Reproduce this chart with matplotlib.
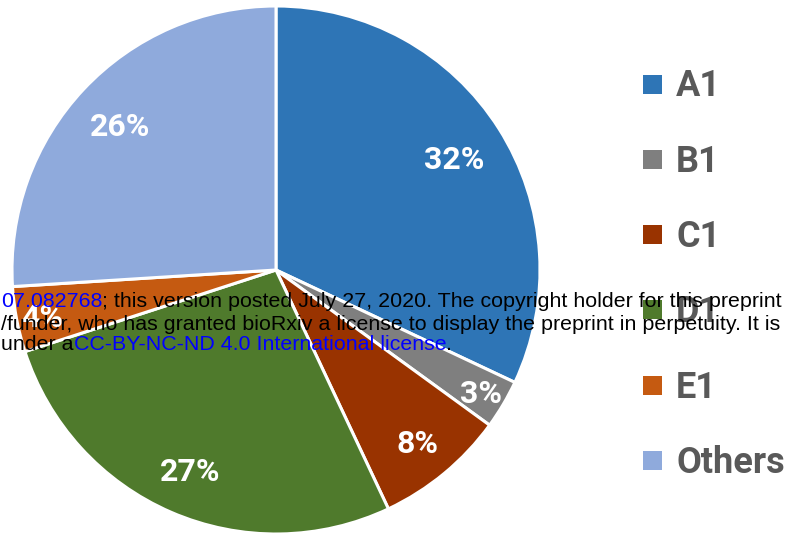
import matplotlib
matplotlib.use("Agg")
import matplotlib.pyplot as plt
from matplotlib.patches import Rectangle
import numpy as np

labels = ["A1", "B1", "C1", "D1", "E1", "Others"]
shares = [32, 3, 8, 27, 4, 26]
colors = ["#2E75B6", "#7F7F7F", "#993300", "#4F7A2C", "#C55A11", "#8FAADC"]
# small slices get their labels pushed further out
label_dist = [0.80, 0.90, 0.84, 0.82, 0.90, 0.81]

W, H = 800, 536
fig = plt.figure(figsize=(W / 100, H / 100), dpi=100)

cx, cy, r = 276, 270, 264
ax = fig.add_axes([(cx - r) / W, (H - cy - r) / H, 2 * r / W, 2 * r / H])

wedges, texts, autotexts = ax.pie(
    shares, colors=colors, startangle=90, counterclock=False,
    autopct="%d%%", pctdistance=0.81,
    wedgeprops=dict(edgecolor="white", linewidth=2.2),
    textprops=dict(color="white", fontsize=23, fontweight="bold", family="Roboto"),
)
ax.set_xlim(-1, 1)
ax.set_ylim(-1, 1)

# reposition the percentage labels along each slice's mid angle
for w, t, d in zip(wedges, autotexts, label_dist):
    mid = np.deg2rad((w.theta1 + w.theta2) / 2)
    t.set_position((d * np.cos(mid), d * np.sin(mid)))
    t.set_va("center_baseline")

# legend on the right: square swatch + grey bold label per row
sq = 19
for i, (lab, c) in enumerate(zip(labels, colors)):
    yc = 84 + i * 75.3
    fig.add_artist(Rectangle((643 / W, 1 - (yc + sq / 2) / H), sq / W, sq / H,
                             transform=fig.transFigure, facecolor=c, edgecolor="none"))
    fig.text(676 / W, 1 - (yc + 12.5) / H, lab, color="#595959", family="Roboto",
             fontweight="bold", fontsize=26, va="baseline", ha="left")

# preprint notice overlaid on top
lines = [
    [("07.082768", "blue"), ("; this version posted July 27, 2020. The copyright holder for this preprint", "black")],
    [("/funder, who has granted bioRxiv a license to display the preprint in perpetuity. It is", "black")],
    [("under a", "black"), ("CC-BY-NC-ND 4.0 International license", "blue"), (".", "black")],
]
baselines = [307, 330, 350]
fig.canvas.draw()
renderer = fig.canvas.get_renderer()
for segs, yb in zip(lines, baselines):
    x = 1
    for s, c in segs:
        t = fig.text(x / W, 1 - yb / H, s, color=c, family="Liberation Sans",
                     fontsize=15.4, va="baseline", ha="left", zorder=10)
        x += t.get_window_extent(renderer).width

fig.savefig("out.png", dpi=100)
